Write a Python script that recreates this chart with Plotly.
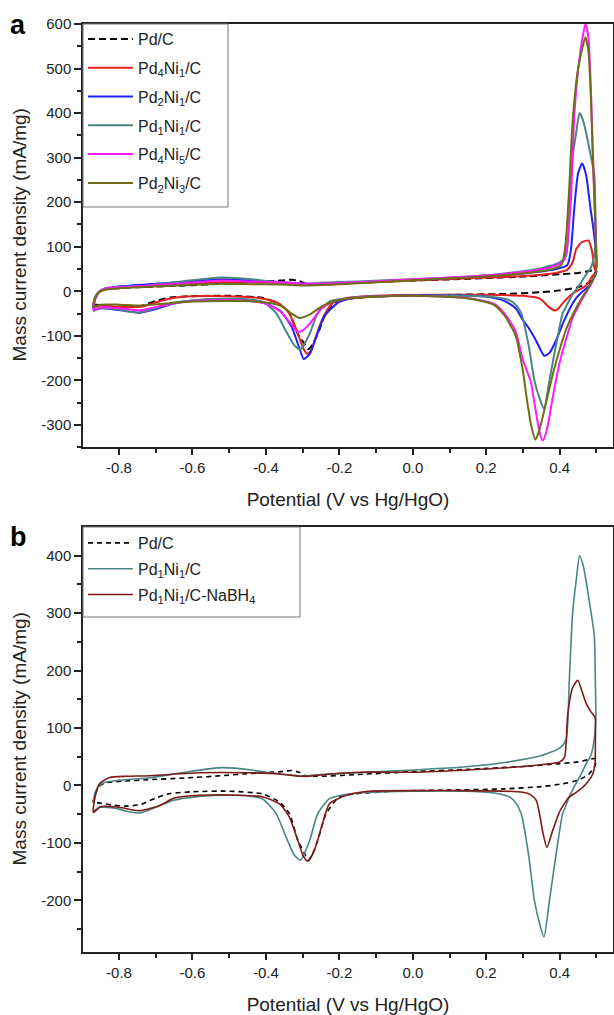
import plotly.graph_objects as go

# ---------------- data (potential in V vs Hg/HgO, current in mA/mg) ----------------
# Pd/C (shared by panels a and b)
PDC_FWD_X = [-0.87, -0.865, -0.855, -0.84, -0.80, -0.72, -0.62, -0.52, -0.44, -0.36, -0.33, -0.31, -0.29, -0.25, -0.15, 0.0, 0.15, 0.30, 0.40, 0.45, 0.495]
PDC_FWD_Y = [-30, -15, -2, 4, 7, 10, 13, 17, 21, 24, 26, 23, 17, 16, 19, 24, 28, 33, 38, 41, 47]
PDC_REV_X = [0.50, 0.495, 0.48, 0.45, 0.40, 0.35, 0.25, 0.10, -0.05, -0.16, -0.20, -0.236, -0.259, -0.275, -0.285, -0.295, -0.313, -0.336, -0.363, -0.408, -0.50, -0.60, -0.66, -0.70, -0.74, -0.78, -0.82, -0.86, -0.87]
PDC_REV_Y = [45, 33, 20, 9, 2, -2, -6, -8, -10, -15, -20, -49, -96, -122, -130, -118, -96, -49, -29, -15, -10, -11, -14, -22, -33, -36, -34, -30, -30]

# Pd4Ni1/C
P41_FWD_X = [-0.87, -0.865, -0.855, -0.84, -0.80, -0.72, -0.62, -0.52, -0.44, -0.36, -0.30, -0.25, -0.15, 0.0, 0.15, 0.30, 0.38, 0.42, 0.435, 0.445, 0.46, 0.478, 0.488, 0.495]
P41_FWD_Y = [-35, -15, -2, 5, 9, 12, 16, 20, 20, 19, 16, 15, 19, 24, 29, 34, 40, 48, 65, 95, 110, 114, 90, 50]
P41_REV_X = [0.50, 0.49, 0.472, 0.45, 0.435, 0.41, 0.395, 0.385, 0.37, 0.345, 0.30, 0.20, 0.05, -0.10, -0.18, -0.22, -0.245, -0.265, -0.278, -0.288, -0.30, -0.315, -0.34, -0.37, -0.42, -0.52, -0.62, -0.68, -0.74, -0.80, -0.85, -0.87]
P41_REV_Y = [45, 35, 13, 2, -5, -25, -40, -43, -35, -16, -10, -8, -8, -10, -15, -28, -60, -105, -135, -140, -125, -90, -45, -25, -15, -11, -12, -20, -35, -35, -32, -35]

# Pd2Ni1/C
P21_FWD_X = [-0.87, -0.865, -0.855, -0.84, -0.80, -0.72, -0.62, -0.52, -0.44, -0.36, -0.30, -0.25, -0.15, 0.0, 0.15, 0.30, 0.38, 0.42, 0.43, 0.44, 0.45, 0.461, 0.472, 0.483, 0.49, 0.497]
P21_FWD_Y = [-40, -18, -2, 6, 11, 16, 21, 27, 24, 21, 17, 16, 20, 26, 32, 40, 48, 58, 90, 190, 265, 287, 260, 190, 150, 100]
P21_REV_X = [0.50, 0.495, 0.48, 0.46, 0.445, 0.43, 0.41, 0.39, 0.375, 0.365, 0.358, 0.35, 0.335, 0.315, 0.30, 0.28, 0.25, 0.20, 0.10, -0.05, -0.15, -0.20, -0.24, -0.26, -0.28, -0.297, -0.31, -0.33, -0.36, -0.40, -0.46, -0.55, -0.64, -0.70, -0.745, -0.80, -0.85, -0.87]
P21_REV_Y = [60, 35, 12, -2, -15, -35, -70, -110, -135, -143, -145, -135, -110, -82, -65, -38, -22, -12, -9, -10, -14, -24, -55, -95, -140, -152, -125, -80, -45, -28, -20, -18, -25, -40, -48, -42, -38, -42]

# Pd1Ni1/C (shared by panels a and b)
P11_FWD_X = [-0.87, -0.865, -0.855, -0.84, -0.80, -0.72, -0.62, -0.52, -0.44, -0.40, -0.35, -0.31, -0.29, -0.25, -0.15, 0.0, 0.136, 0.25, 0.35, 0.40, 0.417, 0.426, 0.435, 0.445, 0.454, 0.463, 0.472, 0.483, 0.494, 0.497]
P11_FWD_Y = [-30, -12, -1, 5, 9, 13, 23, 31, 27, 23, 19, 17, 17, 19, 22, 27, 32, 40, 52, 65, 79, 183, 300, 358, 400, 385, 355, 310, 262, 180]
P11_REV_X = [0.498, 0.49, 0.483, 0.472, 0.46, 0.449, 0.437, 0.426, 0.415, 0.408, 0.39, 0.372, 0.357, 0.345, 0.331, 0.315, 0.295, 0.28, 0.263, 0.23, 0.15, 0.0, -0.12, -0.172, -0.20, -0.227, -0.259, -0.281, -0.306, -0.322, -0.345, -0.372, -0.408, -0.45, -0.499, -0.58, -0.653, -0.70, -0.744, -0.78, -0.807, -0.853, -0.87]
P11_REV_Y = [110, 65, 50, 38, 22, 9, -5, -20, -38, -49, -120, -200, -264, -240, -200, -120, -49, -30, -20, -14, -10, -10, -12, -15, -18, -23, -49, -96, -130, -122, -90, -49, -24, -18, -17, -19, -26, -38, -48, -45, -40, -38, -45]

# Pd4Ni5/C
P45_FWD_X = [-0.87, -0.865, -0.855, -0.84, -0.80, -0.72, -0.62, -0.52, -0.44, -0.36, -0.30, -0.25, -0.15, 0.0, 0.15, 0.30, 0.38, 0.41, 0.42, 0.43, 0.44, 0.455, 0.47, 0.478, 0.485, 0.49, 0.495, 0.499]
P45_FWD_Y = [-42, -18, -2, 5, 9, 13, 18, 24, 22, 20, 17, 17, 20, 27, 33, 43, 55, 68, 100, 200, 400, 530, 600, 570, 450, 320, 200, 110]
P45_REV_X = [0.50, 0.495, 0.485, 0.47, 0.45, 0.435, 0.42, 0.40, 0.385, 0.37, 0.362, 0.354, 0.346, 0.335, 0.32, 0.30, 0.28, 0.25, 0.22, 0.15, 0.0, -0.12, -0.18, -0.22, -0.25, -0.28, -0.30, -0.313, -0.33, -0.36, -0.40, -0.46, -0.52, -0.60, -0.68, -0.744, -0.80, -0.85, -0.87]
P45_REV_Y = [55, 35, 15, -5, -35, -60, -100, -160, -220, -290, -320, -335, -320, -270, -200, -155, -90, -50, -28, -15, -10, -13, -17, -25, -40, -72, -88, -92, -75, -46, -28, -21, -20, -22, -32, -43, -38, -36, -42]

# Pd2Ni3/C
P23_FWD_X = [-0.87, -0.865, -0.855, -0.84, -0.80, -0.72, -0.62, -0.52, -0.44, -0.36, -0.30, -0.25, -0.15, 0.0, 0.15, 0.30, 0.38, 0.405, 0.415, 0.425, 0.435, 0.45, 0.47, 0.478, 0.485, 0.49, 0.495, 0.499]
P23_FWD_Y = [-35, -15, -3, 3, 7, 10, 14, 17, 16, 15, 13, 14, 18, 25, 31, 40, 50, 60, 100, 220, 380, 500, 570, 540, 430, 300, 190, 100]
P23_REV_X = [0.50, 0.495, 0.48, 0.46, 0.44, 0.42, 0.40, 0.38, 0.36, 0.345, 0.334, 0.322, 0.31, 0.30, 0.28, 0.25, 0.22, 0.15, 0.0, -0.12, -0.18, -0.22, -0.25, -0.28, -0.308, -0.33, -0.36, -0.40, -0.46, -0.52, -0.60, -0.68, -0.744, -0.80, -0.85, -0.87]
P23_REV_Y = [55, 35, 10, -15, -45, -80, -130, -190, -260, -310, -333, -300, -240, -180, -100, -55, -30, -16, -10, -13, -17, -24, -35, -52, -60, -50, -32, -25, -22, -22, -23, -28, -32, -30, -30, -35]

# Pd1Ni1/C-NaBH4 (panel b)
PNB_FWD_X = [-0.87, -0.865, -0.853, -0.825, -0.78, -0.716, -0.58, -0.444, -0.36, -0.308, -0.28, -0.227, -0.145, 0.0, 0.15, 0.30, 0.40, 0.413, 0.422, 0.435, 0.449, 0.46, 0.472, 0.485, 0.496]
PNB_FWD_Y = [-47, -20, 3, 14, 16, 17, 22, 22, 20, 16, 16, 20, 23, 23, 27, 33, 41, 49, 125, 170, 183, 165, 143, 128, 119]
PNB_REV_X = [0.497, 0.496, 0.49, 0.475, 0.463, 0.445, 0.426, 0.40, 0.38, 0.365, 0.355, 0.345, 0.336, 0.32, 0.299, 0.25, 0.15, 0.0, -0.12, -0.181, -0.227, -0.249, -0.268, -0.286, -0.299, -0.313, -0.336, -0.363, -0.408, -0.471, -0.58, -0.65, -0.689, -0.744, -0.80, -0.85, -0.87]
PNB_REV_Y = [80, 38, 20, 5, -3, -12, -20, -45, -80, -108, -85, -50, -26, -16, -12, -10, -9, -9, -10, -17, -32, -73, -113, -132, -122, -96, -55, -32, -20, -17, -17, -22, -35, -44, -38, -37, -47]

NAMES_A = ["Pd/C", "Pd<sub>4</sub>Ni<sub>1</sub>/C", "Pd<sub>2</sub>Ni<sub>1</sub>/C",
           "Pd<sub>1</sub>Ni<sub>1</sub>/C", "Pd<sub>4</sub>Ni<sub>5</sub>/C", "Pd<sub>2</sub>Ni<sub>3</sub>/C"]
NAMES_B = ["Pd/C", "Pd<sub>1</sub>Ni<sub>1</sub>/C", "Pd<sub>1</sub>Ni<sub>1</sub>/C-NaBH<sub>4</sub>"]

X_TICKS = [-0.8, -0.6, -0.4, -0.2, 0.0, 0.2, 0.4]
X_TICK_TEXT = ["-0.8", "-0.6", "-0.4", "-0.2", "0.0", "0.2", "0.4"]
YA_TICKS = [-300, -200, -100, 0, 100, 200, 300, 400, 500, 600]
YA_TICK_TEXT = ["-300", "-200", "-100", "0", "100", "200", "300", "400", "500", "600"]
YB_TICKS = [-200, -100, 0, 100, 200, 300, 400]
YB_TICK_TEXT = ["-200", "-100", "0", "100", "200", "300", "400"]
X_TITLE = "Potential (V vs Hg/HgO)"
Y_TITLE = "Mass current density (mA/mg)"

# ---------------- figure ----------------
fig = go.Figure()

def loop(fx, fy, rx, ry):
    return list(fx) + list(rx), list(fy) + list(ry)

series_a = [
    (PDC_FWD_X, PDC_FWD_Y, PDC_REV_X, PDC_REV_Y, "black", "dash"),
    (P41_FWD_X, P41_FWD_Y, P41_REV_X, P41_REV_Y, "#e3201c", "solid"),
    (P21_FWD_X, P21_FWD_Y, P21_REV_X, P21_REV_Y, "#1f1fff", "solid"),
    (P11_FWD_X, P11_FWD_Y, P11_REV_X, P11_REV_Y, "#4a8585", "solid"),
    (P45_FWD_X, P45_FWD_Y, P45_REV_X, P45_REV_Y, "#ff1aff", "solid"),
    (P23_FWD_X, P23_FWD_Y, P23_REV_X, P23_REV_Y, "#6e6e14", "solid"),
]
for i, ((fx, fy, rx, ry, col, dash), name) in enumerate(zip(series_a, NAMES_A)):
    x, y = loop(fx, fy, rx, ry)
    fig.add_trace(go.Scatter(x=x, y=y, mode="lines", name=name, legendgroup=f"a{i}",
                             line=dict(color=col, width=2, dash="7px,4px" if dash == "dash" else None,
                                       shape="spline", smoothing=0.6),
                             xaxis="x", yaxis="y", legend="legend"))

series_b = [
    (PDC_FWD_X, PDC_FWD_Y, PDC_REV_X, PDC_REV_Y, "black", "dash"),
    (P11_FWD_X, P11_FWD_Y, P11_REV_X, P11_REV_Y, "#4a8585", "solid"),
    (PNB_FWD_X, PNB_FWD_Y, PNB_REV_X, PNB_REV_Y, "#7f1a1a", "solid"),
]
for i, ((fx, fy, rx, ry, col, dash), name) in enumerate(zip(series_b, NAMES_B)):
    x, y = loop(fx, fy, rx, ry)
    fig.add_trace(go.Scatter(x=x, y=y, mode="lines", name=name, legendgroup=f"b{i}",
                             line=dict(color=col, width=1.6, dash="5px,4px" if dash == "dash" else None,
                                       shape="spline", smoothing=0.6),
                             xaxis="x2", yaxis="y2", legend="legend2"))

FONT = "Liberation Sans, Arial, sans-serif"
tickfont = dict(family=FONT, size=15, color="#222")
titlefont = dict(family=FONT, size=19, color="#222")
legfont = dict(family=FONT, size=16, color="#222")

def xaxis_cfg(anchor):
    return dict(anchor=anchor, range=[-0.898, 0.545], tickvals=X_TICKS, ticktext=X_TICK_TEXT,
                automargin=False,
                ticks="outside", ticklen=6, tickwidth=1.5, tickcolor="#222",
                minor=dict(tickvals=[-0.7, -0.5, -0.3, -0.1, 0.1, 0.3, 0.5], ticks="outside",
                           ticklen=4, tickwidth=1.5, tickcolor="#222"),
                showline=True, linecolor="#222", linewidth=1.5, mirror=True,
                showgrid=False, zeroline=False, tickfont=tickfont,
                title=dict(text=X_TITLE, font=titlefont, standoff=18))

def yaxis_cfg(anchor, domain, rng, tvals, ttext, minor_vals):
    return dict(anchor=anchor, domain=domain, range=rng, tickvals=tvals, ticktext=ttext,
                automargin=False,
                ticks="outside", ticklen=7, tickwidth=1.5, tickcolor="#222",
                minor=dict(tickvals=minor_vals, ticks="outside", ticklen=4,
                           tickwidth=1.5, tickcolor="#222"),
                showline=True, linecolor="#222", linewidth=1.5, mirror=True,
                showgrid=False, zeroline=False, tickfont=tickfont)

PAPER_H = 1015 - 24 - 63
PAPER_W = 614 - 83 - 1
def px_to_paper(px, py):
    return (px - 83) / PAPER_W, (1015 - 63 - py) / PAPER_H

leg_a_x, leg_a_y = px_to_paper(83, 22)
leg_b_x, leg_b_y = px_to_paper(83, 526)

fig.update_layout(
    width=614, height=1015,
    margin=dict(l=83, r=1, t=24, b=63, autoexpand=False),
    paper_bgcolor="white", plot_bgcolor="white",
    showlegend=True,
    xaxis=xaxis_cfg("y"),
    yaxis=yaxis_cfg("x", [0.544, 1.0], [-350, 600], YA_TICKS, YA_TICK_TEXT,
                    [-350, -250, -150, -50, 50, 150, 250, 350, 450, 550]),
    xaxis2=xaxis_cfg("y2"),
    yaxis2=yaxis_cfg("x2", [0.0, 0.458], [-290, 450], YB_TICKS, YB_TICK_TEXT,
                     [-250, -150, -50, 50, 150, 250, 350]),
    legend=dict(x=leg_a_x, y=leg_a_y, xanchor="left", yanchor="top", bgcolor="rgba(0,0,0,0)",
                borderwidth=0, font=legfont,
                itemwidth=45, traceorder="grouped", tracegroupgap=5),
    legend2=dict(x=leg_b_x, y=leg_b_y, xanchor="left", yanchor="top", bgcolor="rgba(0,0,0,0)",
                 borderwidth=0, font=legfont,
                 itemwidth=45, traceorder="grouped", tracegroupgap=2),
)

# legend frames (boxes drawn as shapes so the entries can sit as in the original)
for (x0p, y0p, x1p, y1p) in [(83, 24, 228, 207), (83, 527, 300, 617)]:
    ax0, ay0 = px_to_paper(x0p, y1p)
    ax1, ay1 = px_to_paper(x1p, y0p)
    fig.add_shape(type="rect", xref="paper", yref="paper", x0=ax0, y0=ay0, x1=ax1, y1=ay1,
                  line=dict(color="#777", width=1), fillcolor="white", layer="above")

# y-axis titles
for cy in [(24 + 447) / 2, (527 + 952) / 2]:
    tx, ty = px_to_paper(19, cy)
    fig.add_annotation(text=Y_TITLE, x=tx, y=ty, xref="paper", yref="paper", showarrow=False,
                       textangle=-90, xanchor="center", yanchor="middle", font=titlefont)

ax_, ay_ = px_to_paper(18, 25)
bx_, by_ = px_to_paper(18, 537)
fig.add_annotation(text="<b>a</b>", x=ax_, y=ay_, xref="paper", yref="paper", showarrow=False,
                   xanchor="center", yanchor="middle", font=dict(family=FONT, size=27, color="black"))
fig.add_annotation(text="<b>b</b>", x=bx_, y=by_, xref="paper", yref="paper", showarrow=False,
                   xanchor="center", yanchor="middle", font=dict(family=FONT, size=27, color="black"))

# remove the default page margin so the figure sits at the top-left corner of the window
fig.write_html("out.html", config={"displayModeBar": False},
               post_script="document.body.style.margin='0';")
